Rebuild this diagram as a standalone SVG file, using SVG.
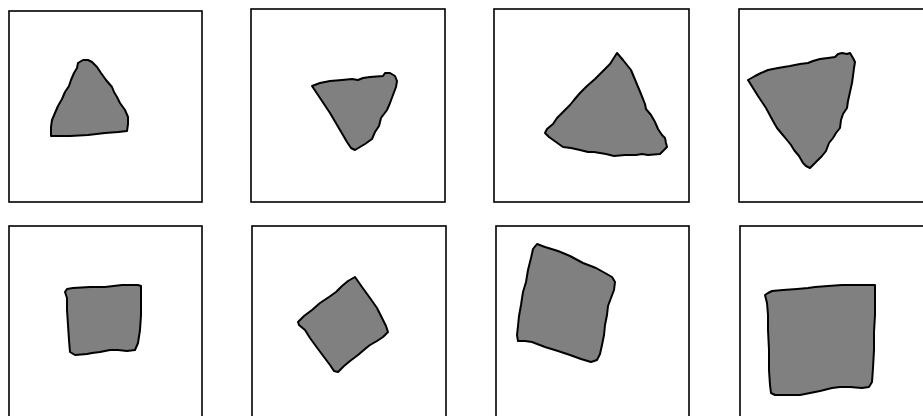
<svg xmlns="http://www.w3.org/2000/svg" width="923" height="416" viewBox="0 0 923 416">
<style>
.frame{fill:none;stroke:#000;stroke-width:1.6}
.shape{fill:#808080;stroke:#000;stroke-width:2;stroke-linejoin:round}
</style>
<rect width="923" height="416" fill="#fff"/>
<g id="panel1">
<rect class="frame" x="9" y="11" width="193" height="191"/>
<path class="shape" d="M83,60 L78,63 L77,68 L74,73 L71,80 L69,86 L65,92 L62,99 L58,106 L55,113 L52,120 L51,127 L51,136 L70,136 L88,135 L105,133 L118,132 L127,131 L128,124 L128,117 L125,110 L120,103 L117,97 L114,92 L112,87 L106,80 L101,73 L97,67 L92,62 L88,60 Z"/>
</g>
<g id="panel2">
<rect class="frame" x="251" y="9" width="194" height="193"/>
<path class="shape" d="M312,86 L320,83 L330,81 L342,80 L352,79 L358,80 L363,78 L370,77 L383,76 L385,73 L390,73 L395,76 L397,81 L396,87 L393,95 L390,103 L387,110 L381,118 L379,126 L375,132 L372,139 L365,144 L355,150 L351,148 L347,142 L340,130 L330,113 L320,98 Z"/>
</g>
<g id="panel3">
<rect class="frame" x="494" y="9" width="195" height="193"/>
<path class="shape" d="M617,53 L623,60 L631,70 L636,82 L641,94 L645,104 L646,109 L651,115 L655,122 L658,129 L662,135 L665,138 L666,143 L667,147 L663,151 L660,154 L648,155 L642,154 L636,155 L625,155 L614,156 L606,154 L600,153 L594,152 L588,152 L580,150 L571,148 L563,147 L556,142 L549,137 L545,133 L547,129 L553,124 L557,118 L562,113 L570,105 L574,100 L580,93 L587,86 L595,79 L603,71 L610,64 Z"/>
</g>
<g id="panel4">
<rect class="frame" x="739" y="9" width="196" height="193"/>
<path class="shape" d="M748,80 L755,76 L761,73 L768,70 L778,68 L790,66 L800,64 L808,63 L813,61 L820,59 L828,58 L835,57 L838,54 L842,53 L847,54 L850,53 L853,58 L855,62 L854,68 L853,76 L852,83 L850,92 L848,101 L847,108 L843,114 L841,120 L840,128 L836,133 L833,138 L829,143 L826,151 L822,156 L816,162 L810,168 L806,166 L803,163 L799,156 L794,150 L791,145 L787,140 L782,134 L777,128 L773,121 L766,108 L758,96 Z"/>
</g>
<g id="panel5">
<rect class="frame" x="9" y="226" width="193" height="200"/>
<path class="shape" d="M65,292 L67,289 L73,288 L90,287 L105,287 L122,285 L138,285 L141,286 L141,300 L141,315 L140,330 L138,343 L135,350 L127,351 L118,350 L110,350 L100,352 L92,353 L87,354 L75,355 L70,352 L69,340 L68,325 L67,310 L67,298 Z"/>
</g>
<g id="panel6">
<rect class="frame" x="252" y="226" width="194" height="200"/>
<path class="shape" d="M355,277 L362,287 L370,298 L377,308 L382,318 L386,326 L388,332 L383,337 L377,341 L370,345 L365,349 L358,355 L350,361 L344,366 L338,372 L334,371 L330,365 L324,357 L318,349 L310,338 L305,330 L299,325 L298,322 L304,316 L312,310 L320,303 L329,297 L336,292 L342,286 L348,281 Z"/>
</g>
<g id="panel7">
<rect class="frame" x="496" y="226" width="193" height="200"/>
<path class="shape" d="M537,244 L545,247 L558,251 L570,256 L583,263 L596,268 L605,273 L612,277 L615,282 L614,290 L611,298 L608,306 L607,315 L605,325 L604,335 L602,345 L600,354 L597,360 L591,362 L581,359 L570,355 L558,351 L545,347 L532,342 L525,341 L518,341 L517,335 L518,326 L519,316 L521,305 L523,292 L526,282 L528,270 L531,258 L533,249 Z"/>
</g>
<g id="panel8">
<rect class="frame" x="740" y="226" width="196" height="200"/>
<path class="shape" d="M765,295 L768,293 L772,291 L783,290 L797,289 L808,288 L815,287 L828,286 L842,285 L858,285 L875,285 L875,300 L875,315 L874,332 L874,350 L873,368 L872,382 L869,387 L862,388 L850,387 L840,387 L832,388 L820,391 L810,393 L800,395 L787,395 L775,395 L771,393 L770,385 L769,370 L769,350 L768,330 L768,315 L767,303 Z"/>
</g>
</svg>
